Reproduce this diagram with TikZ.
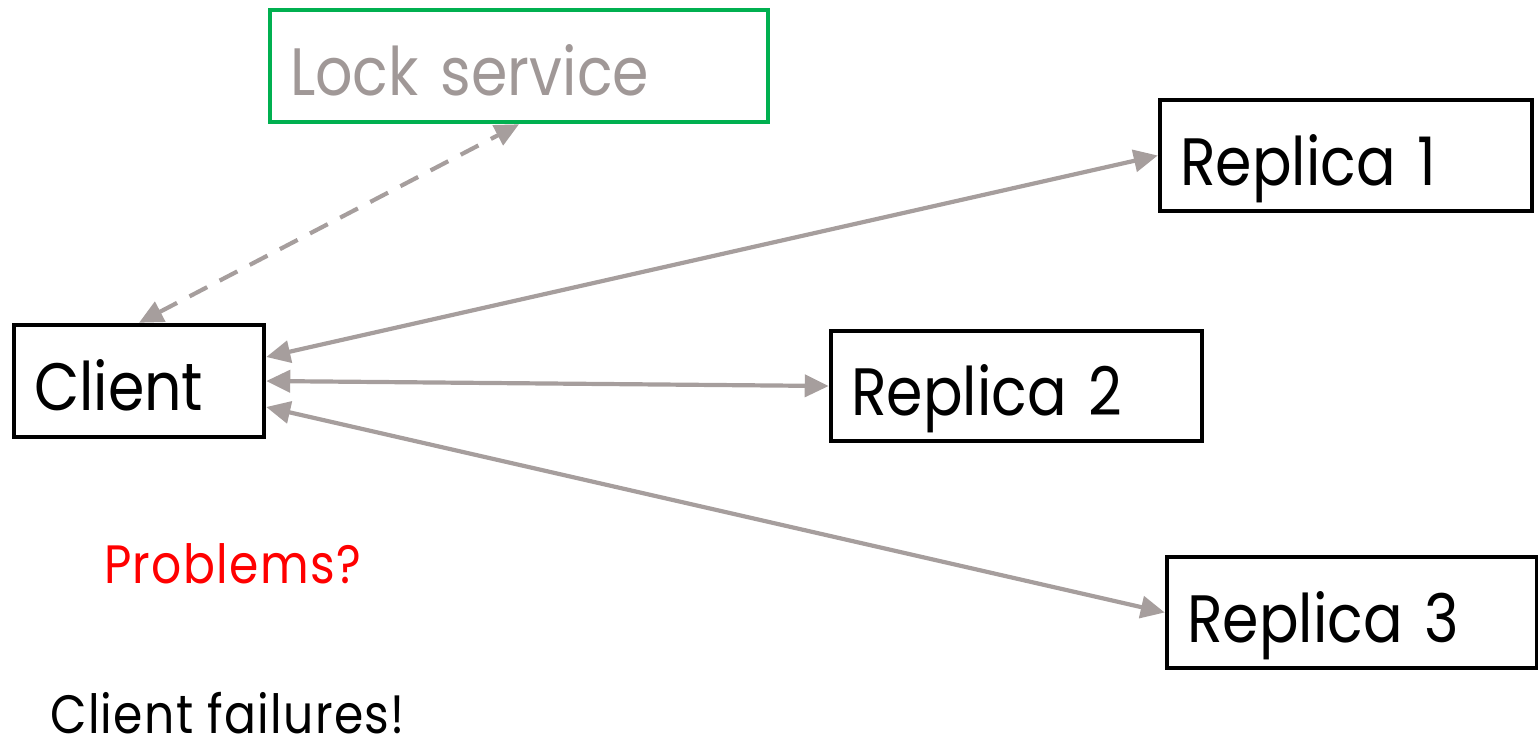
\documentclass[tikz,border=0pt]{standalone}
\usepackage{fontspec}
\setmainfont{Poppins}[FakeStretch=0.875]
\usetikzlibrary{arrows.meta,calc}
\definecolor{linkgrey}{RGB}{166,158,157}
\definecolor{labelgrey}{RGB}{160,152,151}
\definecolor{lockgreen}{RGB}{0,176,80}
\definecolor{alertred}{RGB}{255,0,0}
\begin{document}
\begin{tikzpicture}[x=1pt,y=-1pt,
  box/.style={draw=black,line width=4.5pt,rectangle,inner xsep=20pt,inner ysep=0pt,
    text height=59pt,text depth=0pt,align=left,
    font=\fontsize{67}{67}\selectfont},
  link/.style={draw=linkgrey,line width=4.2pt,{Triangle[length=24pt,width=22pt]}-{Triangle[length=24pt,width=22pt]}},
  note/.style={anchor=base west,inner sep=0pt,
    font=\fontsize{54}{54}\selectfont\addfontfeatures{LetterSpace=2.5}}]
\useasboundingbox (0,0) rectangle (1538,742);
% boxes
\node[box,draw=lockgreen,text=labelgrey,minimum width=498pt,minimum height=112pt,text width=458pt] (lock) at (519,66) {Lock service};
\node[box,minimum width=250pt,minimum height=112pt,text width=210pt] (client) at (139,381) {Client};
\node[box,minimum width=372pt,minimum height=111pt,text width=332pt] (r1) at (1346,155.5) {Replica 1};
\node[box,minimum width=371pt,minimum height=110pt,text width=331pt] (r2) at (1016.5,386) {Replica 2};
\node[box,minimum width=370pt,minimum height=111pt,text width=330pt] (r3) at (1352,612.5) {Replica 3};
% connectors
\draw[link] ($(client.east)+(0,-24)$) -- (r1.west);
\draw[link] (client.east) -- (r2.west);
\draw[link] ($(client.east)+(0,26)$) -- (r3.west);
\draw[link,dashed,dash pattern=on 20pt off 14pt] (client.north) -- (lock.south);
% notes
\node[note,text=alertred] (problems) at (104,583) {Problems?};
\node[note] (failures) at (50,733) {Client failures!};
\end{tikzpicture}
\end{document}
